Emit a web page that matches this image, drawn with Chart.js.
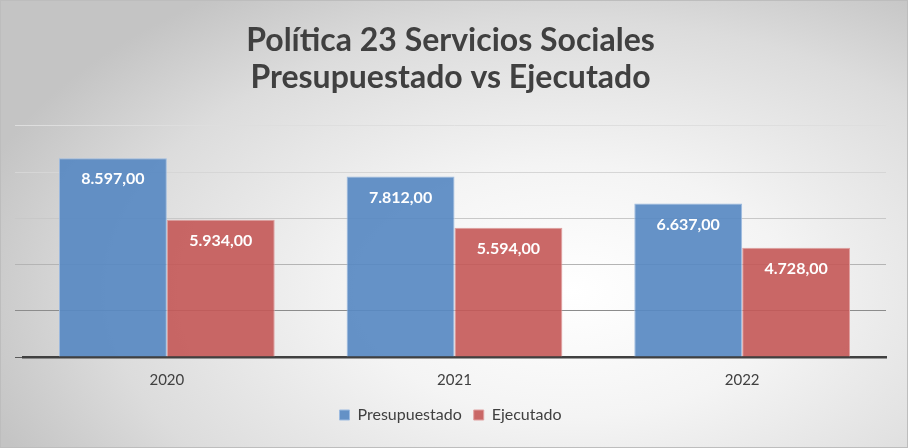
<!DOCTYPE html>
<html>
<head>
<meta charset="utf-8">
<script src="https://cdn.jsdelivr.net/npm/chart.js@4.4.1/dist/chart.umd.min.js"></script>
<style>
  html, body { margin: 0; padding: 0; }
  body { width: 908px; height: 448px; overflow: hidden; }
  #wrap {
    position: relative; width: 906px; height: 446px;
    border: 1px solid #bdbdbd;
    background: radial-gradient(ellipse 620px 360px at 570px 290px, #ffffff 0%, #f4f4f4 35%, #dcdcdc 75%, #c4c4c4 100%);
  }
  canvas { display: block; }
</style>
</head>
<body>
<div id="wrap"><canvas id="chart" width="906" height="446"></canvas></div>
<script>
const years = ['2020', '2021', '2022'];
const presupuestado = [8597, 7812, 6637];
const ejecutado = [5934, 5594, 4728];
const titleLines = ['Política 23 Servicios Sociales', 'Presupuestado vs Ejecutado'];

// 8597 -> "8.597,00"
function fmt(v) {
    const parts = v.toFixed(2).split('.');
    const int = parts[0].replace(/\B(?=(\d{3})+(?!\d))/g, '.');
    return int + ',' + parts[1];
}

// white labels just inside the top of each bar
const barLabels = {
    id: 'barLabels',
    afterDatasetsDraw(chart) {
        const ctx = chart.ctx;
        ctx.save();
        ctx.fillStyle = '#ffffff';
        ctx.font = "bold 16px Lato, 'Open Sans', sans-serif";
        ctx.textAlign = 'center';
        ctx.textBaseline = 'middle';
        chart.data.datasets.forEach((ds, i) => {
            chart.getDatasetMeta(i).data.forEach((bar, j) => {
                ctx.fillText(fmt(ds.data[j]), bar.x, bar.y + 21);
            });
        });
        ctx.restore();
    }
};

const gridColors = ['#5a5a5a', '#8c8c8c', '#b4b4b4', '#c8c8c8', '#d6d6d6', '#dedede'];

new Chart(document.getElementById('chart'), {
    type: 'bar',
    data: {
        labels: years,
        datasets: [
            { label: 'Presupuestado', data: presupuestado, backgroundColor: 'rgba(88,137,194,0.92)', borderColor: '#9dbbe0', borderWidth: 1 },
            { label: 'Ejecutado', data: ejecutado, backgroundColor: 'rgba(196,88,87,0.9)', borderColor: '#e0a0a0', borderWidth: 1 }
        ]
    },
    options: {
        responsive: false,
        animation: false,
        devicePixelRatio: 1,
        layout: { padding: { left: 14, right: 21, top: 21, bottom: 14 } },
        datasets: { bar: { categoryPercentage: 0.75, barPercentage: 1.0 } },
        plugins: {
            title: {
                display: true, text: titleLines, color: '#404040',
                font: { family: 'Lato', size: 32, weight: 'bold', lineHeight: 1.17 },
                padding: { top: 0, bottom: 29 }
            },
            legend: {
                position: 'bottom',
                labels: {
                    color: '#404040', boxWidth: 10, boxHeight: 10, padding: 12,
                    font: { family: 'Lato', size: 16 }
                }
            },
            tooltip: { enabled: false }
        },
        scales: {
            x: {
                grid: { display: false },
                border: { display: true, color: '#404040', width: 2.5 },
                ticks: { color: '#404040', font: { family: 'Lato', size: 15 }, padding: 6 }
            },
            y: {
                min: 0, max: 10000,
                ticks: { display: false, stepSize: 2000 },
                border: { display: false },
                grid: { color: c => gridColors[c.index] || '#dedede', lineWidth: 1 }
            }
        }
    },
    plugins: [barLabels]
});
</script>
</body>
</html>
